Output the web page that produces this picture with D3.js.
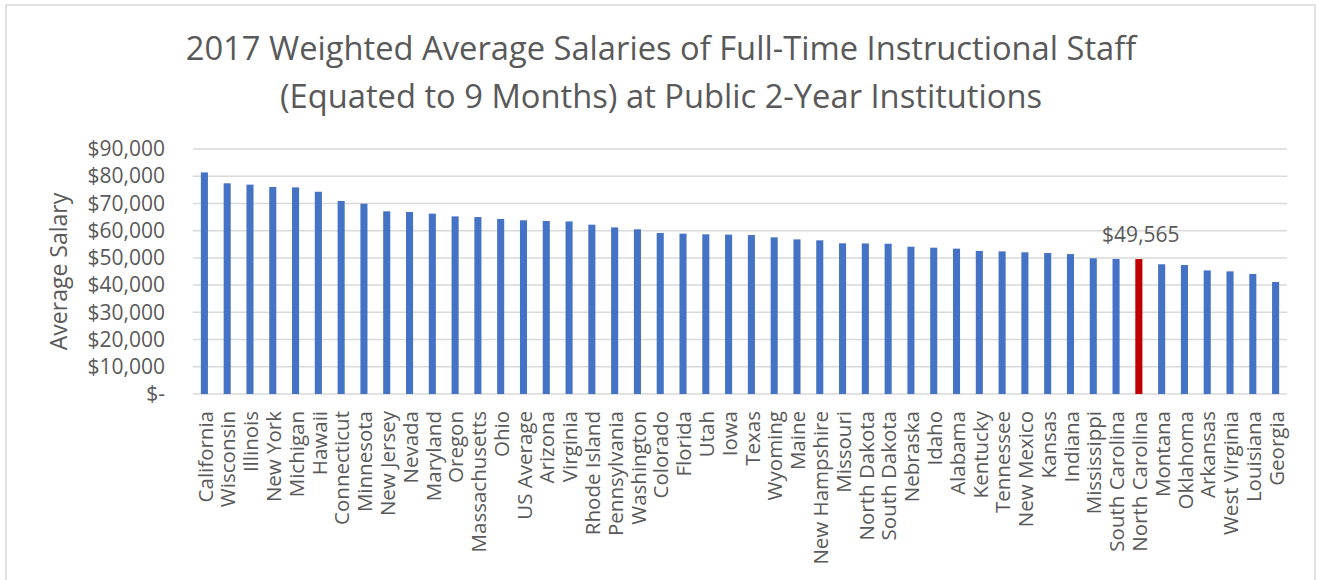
<!DOCTYPE html>
<html>
<head>
<meta charset="utf-8">
<script src="https://cdn.jsdelivr.net/npm/d3@7"></script>
<style>
  body { margin: 0; background: #fff; }
  svg text { font-family: "Open Sans", sans-serif; fill: #595959; }
</style>
</head>
<body>
<div id="chart"></div>
<script>
// states, sorted by salary
const states = ["California", "Wisconsin", "Illinois", "New York", "Michigan", "Hawaii",
  "Connecticut", "Minnesota", "New Jersey", "Nevada", "Maryland", "Oregon", "Massachusetts",
  "Ohio", "US Average", "Arizona", "Virginia", "Rhode Island", "Pennsylvania", "Washington",
  "Colorado", "Florida", "Utah", "Iowa", "Texas", "Wyoming", "Maine", "New Hampshire",
  "Missouri", "North Dakota", "South Dakota", "Nebraska", "Idaho", "Alabama", "Kentucky",
  "Tennessee", "New Mexico", "Kansas", "Indiana", "Mississippi", "South Carolina",
  "North Carolina", "Montana", "Oklahoma", "Arkansas", "West Virginia", "Louisiana", "Georgia"];

const salaries = [81400, 77400, 76900, 76050, 75900, 74300,
  70900, 69900, 67100, 66850, 66250, 65250, 65000,
  64300, 63800, 63550, 63400, 62200, 61200, 60500,
  59150, 58900, 58650, 58550, 58400, 57550, 56800, 56450,
  55350, 55300, 55200, 54100, 53750, 53400, 52550,
  52400, 52050, 51800, 51400, 49850, 49600,
  49565, 47650, 47400, 45400, 45050, 44100, 41150];

const highlight = "North Carolina";
const yTicks = [0, 10000, 20000, 30000, 40000, 50000, 60000, 70000, 80000, 90000];
const titleLines = ["2017 Weighted Average Salaries of Full-Time Instructional Staff",
  "(Equated to 9 Months) at Public 2-Year Institutions"];

const W = 1318, H = 580;
const margin = {top: 149, right: 31, bottom: 186, left: 193};

const svg = d3.select("#chart").append("svg")
  .attr("width", W).attr("height", H);

// chart frame
svg.append("rect")
  .attr("x", 6).attr("y", 5).attr("width", 1309).attr("height", 590)
  .attr("fill", "#fff").attr("stroke", "#d9d9d9").attr("stroke-width", 1.5);

const x = d3.scaleBand()
  .domain(states)
  .range([margin.left, W - margin.right])
  .paddingInner(0.69).paddingOuter(0.345);

const y = d3.scaleLinear()
  .domain([0, 90000])
  .range([H - margin.bottom, margin.top]);

// gridlines
svg.append("g")
  .selectAll("line")
  .data(yTicks)
  .join("line")
  .attr("x1", margin.left).attr("x2", W - margin.right)
  .attr("y1", d => y(d)).attr("y2", d => y(d))
  .attr("stroke", "#d9d9d9").attr("stroke-width", 1.5);

// y axis labels
const fmt = d => d === 0 ? "$-" : "$" + d3.format(",")(d);
const yAxis = svg.append("g")
  .attr("transform", "translate(" + (margin.left - 28) + ",0)")
  .call(d3.axisLeft(y).tickValues(yTicks).tickFormat(fmt).tickSize(0).tickPadding(0));
yAxis.select(".domain").remove();
yAxis.selectAll("text")
  .style("font-size", "21px").attr("fill", "#595959")
  .attr("font-family", "Open Sans");

// bars
svg.append("g")
  .selectAll("rect")
  .data(states)
  .join("rect")
  .attr("x", d => x(d))
  .attr("width", x.bandwidth())
  .attr("y", (d, i) => y(salaries[i]))
  .attr("height", (d, i) => y(0) - y(salaries[i]))
  .attr("fill", d => d === highlight ? "#c00000" : "#4472c4");

// x labels
const xAxis = svg.append("g")
  .attr("transform", "translate(0," + y(0) + ")")
  .call(d3.axisBottom(x).tickSize(0).tickPadding(0));
xAxis.select(".domain").remove();
xAxis.selectAll("text")
  .attr("font-family", "Open Sans")
  .style("font-size", "20.5px").attr("fill", "#595959")
  .attr("text-anchor", "end")
  .attr("transform", "translate(1,17) rotate(-90)")
  .attr("x", 0).attr("y", 0).attr("dy", "0.35em");

// data label for highlighted bar
const hi = states.indexOf(highlight);
svg.append("text")
  .attr("x", x(highlight) + x.bandwidth() / 2 + 2)
  .attr("y", y(salaries[hi]) - 17)
  .attr("text-anchor", "middle")
  .style("font-size", "21px")
  .text(fmt(salaries[hi]));

// y axis title
svg.append("text")
  .attr("transform", "translate(67," + ((margin.top + y(0)) / 2) + ") rotate(-90)")
  .attr("text-anchor", "middle")
  .style("font-size", "23px")
  .text("Average Salary");

// title
svg.append("g")
  .selectAll("text")
  .data(titleLines)
  .join("text")
  .attr("x", 661)
  .attr("y", (d, i) => 60 + i * 48)
  .attr("text-anchor", "middle")
  .style("font-size", "32.7px")
  .text(d => d);
</script>
</body>
</html>
